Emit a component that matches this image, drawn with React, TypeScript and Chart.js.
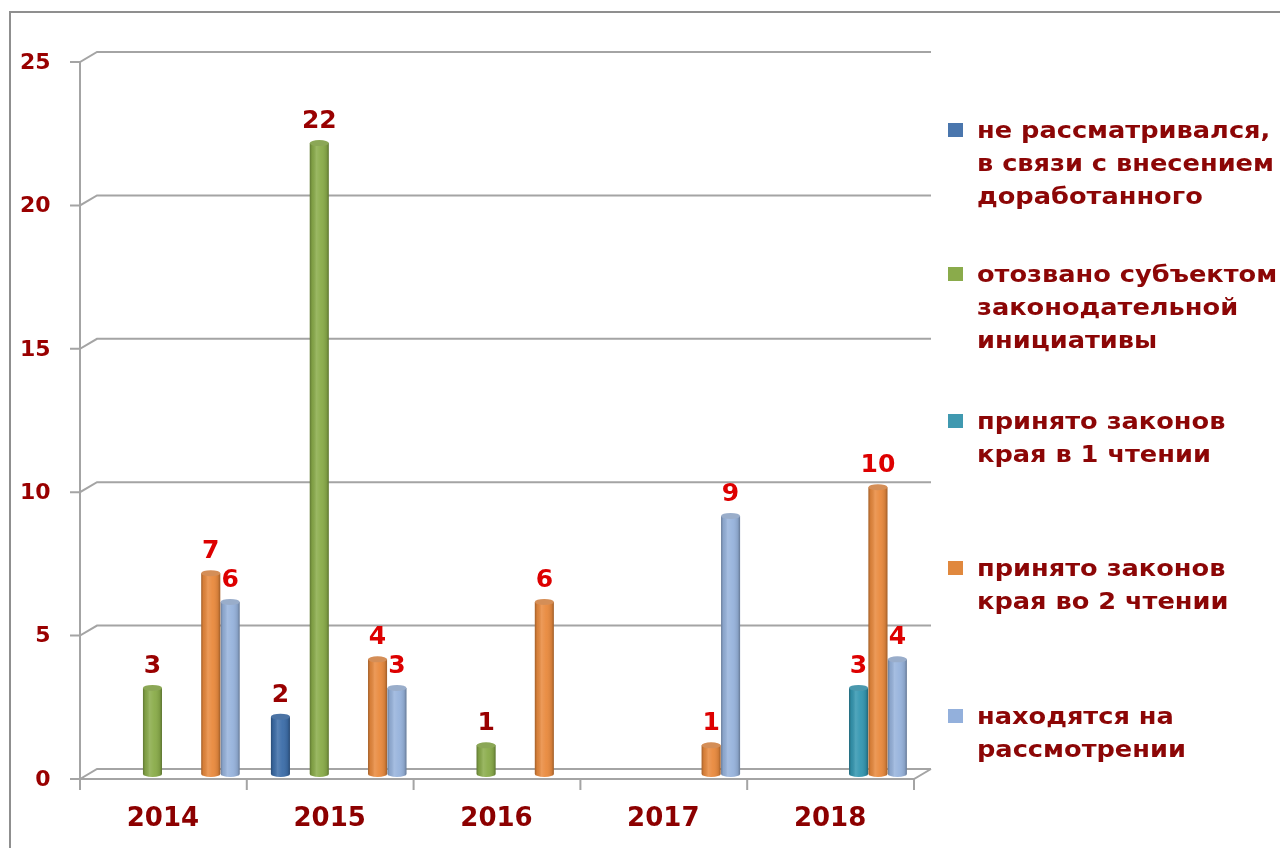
import React, { useEffect, useRef } from "react";
import { Chart, registerables } from "chart.js";

Chart.register(...registerables);

// ---- data ----
const years = ["2014", "2015", "2016", "2017", "2018"];
const notConsidered = [0, 2, 0, 0, 0];
const withdrawn = [3, 22, 1, 0, 0];
const firstReading = [0, 0, 0, 0, 3];
const secondReading = [7, 4, 6, 1, 10];
const underReview = [6, 3, 0, 9, 4];
const emptySeries = [0, 0, 0, 0, 0];
const yTicks = [0, 5, 10, 15, 20, 25];

const legendNames = [
  ["не рассматривался,", "в связи с внесением", "доработанного"],
  ["отозвано субъектом", "законодательной", "инициативы"],
  ["принято законов", "края в 1 чтении"],
  ["принято законов", "края во 2 чтении"],
  ["находятся на", "рассмотрении"],
];
const legendColors = ["#4a76ad", "#8aab4b", "#4099b0", "#e0883e", "#93b0dc"];
const legendTops = [130, 274, 421, 568, 716];

const FONT = '"DejaVu Sans", Verdana, sans-serif';
const DARK_RED = "#8c0606";

const seriesDefs = [
  { label: legendNames[0].join(" "), data: notConsidered, color: "#3d6ea9", top: "#5683bb", labelColor: "#990000" },
  { label: "", data: emptySeries, color: "#000000", top: "#000000", labelColor: "#990000" },
  { label: legendNames[1].join(" "), data: withdrawn, color: "#8aac4a", top: "#9fbf62", labelColor: "#990000" },
  { label: "", data: emptySeries, color: "#000000", top: "#000000", labelColor: "#990000" },
  { label: legendNames[2].join(" "), data: firstReading, color: "#3497b1", top: "#55adc5", labelColor: "#dd0000" },
  { label: legendNames[3].join(" "), data: secondReading, color: "#e98a3e", top: "#f2a264", labelColor: "#dd0000" },
  { label: legendNames[4].join(" "), data: underReview, color: "#97b3dc", top: "#afc5e6", labelColor: "#dd0000" },
];

const frame3d = {
  id: "frame3d",
  beforeDraw(chart: any) {
    const ctx = chart.ctx;
    ctx.save();
    ctx.strokeStyle = "#8f8f8f";
    ctx.lineWidth = 2;
    ctx.beginPath();
    ctx.moveTo(10, 860);
    ctx.lineTo(10, 12);
    ctx.lineTo(1290, 12);
    ctx.stroke();
    ctx.restore();
  },
  beforeDatasetsDraw(chart: any) {
    const { ctx, chartArea, scales } = chart;
    const ys = scales.y;
    const dx = 8.5;
    const dy = 5;
    const fl = chartArea.left - dx;
    const fr = chartArea.right - dx;
    const bl = chartArea.left + dx;
    const br = chartArea.right + dx;
    ctx.save();
    ctx.strokeStyle = "#a4a4a4";
    ctx.lineWidth = 2;
    ctx.beginPath();
    yTicks.forEach((v) => {
      const m = ys.getPixelForValue(v);
      ctx.moveTo(fl - 10, m + dy);
      ctx.lineTo(fl, m + dy);
      ctx.lineTo(bl, m - dy);
      ctx.lineTo(br, m - dy);
    });
    const m0 = ys.getPixelForValue(0);
    const mTop = ys.getPixelForValue(25);
    ctx.moveTo(fl, mTop + dy);
    ctx.lineTo(fl, m0 + dy + 11);
    ctx.moveTo(fl, m0 + dy);
    ctx.lineTo(fr, m0 + dy);
    ctx.lineTo(br, m0 - dy);
    const cw = (chartArea.right - chartArea.left) / years.length;
    for (let i = 1; i <= years.length; i++) {
      const x = fl + i * cw;
      ctx.moveTo(x, m0 + dy);
      ctx.lineTo(x, m0 + dy + 11);
    }
    ctx.stroke();
    ctx.restore();
  },
  afterDatasetsDraw(chart: any) {
    const ctx = chart.ctx;
    ctx.save();
    chart.data.datasets.forEach((ds: any, di: number) => {
      const meta = chart.getDatasetMeta(di);
      const def = seriesDefs[di];
      meta.data.forEach((el: any, i: number) => {
        const v = ds.data[i];
        if (!v) return;
        const { x, y, base, width } = el.getProps(["x", "y", "base", "width"], true);
        const rx = width / 2;
        const ry = 3;
        const l = x - rx;
        const r = x + rx;
        // rounded bottom
        ctx.fillStyle = def.color;
        ctx.beginPath();
        ctx.ellipse(x, base, rx, ry, 0, 0, Math.PI);
        ctx.fill();
        // cylinder shading
        const g = ctx.createLinearGradient(l, 0, r, 0);
        g.addColorStop(0, "rgba(0,0,0,0.30)");
        g.addColorStop(0.12, "rgba(0,0,0,0.08)");
        g.addColorStop(0.35, "rgba(255,255,255,0.14)");
        g.addColorStop(0.6, "rgba(255,255,255,0.04)");
        g.addColorStop(0.88, "rgba(0,0,0,0.10)");
        g.addColorStop(1, "rgba(0,0,0,0.32)");
        ctx.fillStyle = g;
        ctx.beginPath();
        ctx.moveTo(l, y);
        ctx.lineTo(l, base);
        ctx.ellipse(x, base, rx, ry, 0, Math.PI, 0, true);
        ctx.lineTo(r, y);
        ctx.closePath();
        ctx.fill();
        // top cap
        ctx.fillStyle = def.top;
        ctx.beginPath();
        ctx.ellipse(x, y, rx, ry, 0, 0, Math.PI * 2);
        ctx.fill();
        ctx.fillStyle = "rgba(0,0,0,0.12)";
        ctx.beginPath();
        ctx.ellipse(x, y, rx, ry, 0, 0, Math.PI * 2);
        ctx.fill();
      });
    });
    // value labels
    ctx.font = `bold 25px ${FONT}`;
    ctx.textAlign = "center";
    ctx.textBaseline = "alphabetic";
    chart.data.datasets.forEach((ds: any, di: number) => {
      const meta = chart.getDatasetMeta(di);
      const def = seriesDefs[di];
      meta.data.forEach((el: any, i: number) => {
        const v = ds.data[i];
        if (!v) return;
        ctx.fillStyle = def.labelColor;
        ctx.fillText(String(v), el.x, el.y - 15);
      });
    });
    ctx.restore();
  },
};

export default function App() {
  const canvasRef = useRef<HTMLCanvasElement | null>(null);

  useEffect(() => {
    if (!canvasRef.current) return;
    const chart = new Chart(canvasRef.current, {
      type: "bar",
      data: {
        labels: years,
        datasets: seriesDefs.map((s) => ({
          label: s.label,
          data: s.data,
          backgroundColor: s.color,
          borderWidth: 0,
          categoryPercentage: 0.815,
          barPercentage: 0.98,
        })),
      },
      options: {
        animation: false,
        responsive: false,
        maintainAspectRatio: false,
        layout: { padding: { left: 0, top: 57, right: 357.5, bottom: 0 } },
        plugins: {
          legend: { display: false },
          tooltip: { enabled: false },
        },
        scales: {
          x: {
            type: "category",
            grid: { display: false },
            border: { display: false },
            afterFit: (scale: any) => {
              scale.height = 74;
            },
            ticks: {
              color: "#8c0000",
              font: { family: FONT, size: 26, weight: "bold" },
              padding: 22,
              labelOffset: -9,
              maxRotation: 0,
            },
          },
          y: {
            min: 0,
            max: 25,
            grid: { display: false },
            border: { display: false },
            afterFit: (scale: any) => {
              scale.width = 88.5;
            },
            ticks: {
              stepSize: 5,
              color: "#990000",
              font: { family: FONT, size: 22, weight: "bold" },
              padding: 30,
              labelOffset: 6,
            },
          },
        },
      },
      plugins: [frame3d],
    });
    return () => chart.destroy();
  }, []);

  return (
    <div style={{ position: "fixed", left: 0, top: 0, width: 1280, height: 848, background: "#ffffff", overflow: "hidden" }}>
      <canvas ref={canvasRef} width={1280} height={848} style={{ position: "absolute", left: 0, top: 0, width: 1280, height: 848 }} />
      {legendNames.map((lines, i) => (
        <div key={i}>
          <div
            style={{
              position: "absolute",
              left: 948,
              top: legendTops[i] - 7,
              width: 15,
              height: 14,
              background: legendColors[i],
            }}
          />
          <div
            style={{
              position: "absolute",
              left: 977,
              top: legendTops[i] - 16.5,
              fontFamily: FONT,
              fontWeight: "bold",
              fontSize: 23,
              lineHeight: "33px",
              color: DARK_RED,
              whiteSpace: "nowrap",
              transform: "scaleX(1.115)",
              transformOrigin: "left top",
            }}
          >
            {lines.map((t, j) => (
              <div key={j}>{t}</div>
            ))}
          </div>
        </div>
      ))}
    </div>
  );
}
